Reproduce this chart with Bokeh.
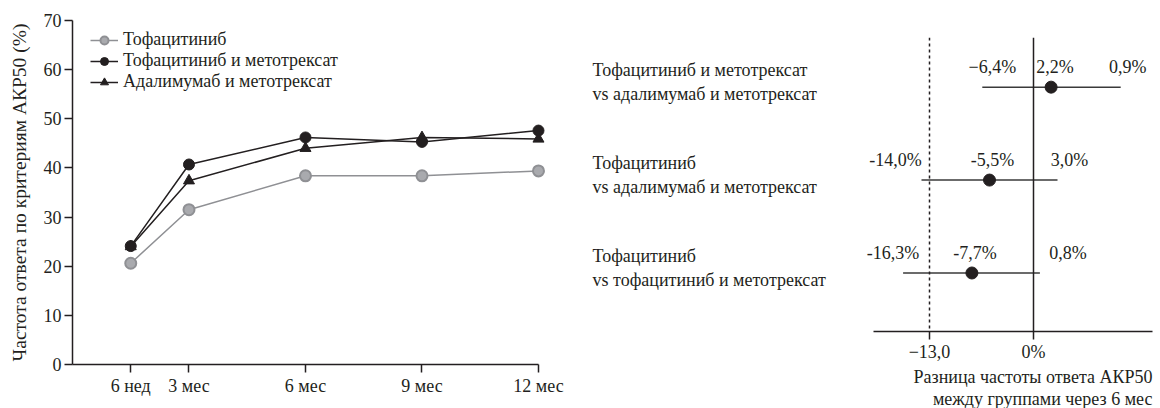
from bokeh.plotting import figure
from bokeh.layouts import row
from bokeh.models import Range1d, FixedTicker, Span, Legend, LegendItem, ColumnDataSource, Title
from bokeh.embed import file_html
from bokeh.resources import INLINE
from bokeh.core.properties import value

# ---------------- data ----------------
visits = [1.5, 3, 6, 9, 12]
visit_labels = ["6 нед", "3 мес", "6 мес", "9 мес", "12 мес"]
tofa = [20.6, 31.5, 38.4, 38.4, 39.4]
tofa_mtx = [24.1, 40.7, 46.2, 45.3, 47.6]
ada_mtx = [24.0, 37.4, 44.0, 46.2, 45.9]
series_names = ["Тофацитиниб", "Тофацитиниб и метотрексат", "Адалимумаб и метотрексат"]
y_ticks = [0, 10, 20, 30, 40, 50, 60, 70]
y_title = "Частота ответа по критериям АКР50 (%)"

comparisons = [
    "Тофацитиниб и метотрексат\nvs адалимумаб и метотрексат",
    "Тофацитиниб\nvs адалимумаб и метотрексат",
    "Тофацитиниб\nvs тофацитиниб и метотрексат",
]
diff_est = [2.2, -5.5, -7.7]
diff_lo = [-6.4, -14.0, -16.3]
diff_hi = [10.9, 3.0, 0.8]
lo_labels = ["−6,4%", "-14,0%", "-16,3%"]
est_labels = ["2,2%", "-5,5%", "-7,7%"]
hi_labels = ["0,9%", "3,0%", "0,8%"]
margin_value = -13.0
forest_ticks = [-13.0, 0.0]
forest_tick_labels = ["−13,0", "0%"]
forest_title = ["Разница частоты ответа АКР50", "между группами через 6 мес"]

# ---------------- style ----------------
FONT = "Liberation Serif"
INK = "#231f20"
GRAY_LINE = "#8f9094"
GRAY_FILL = "#a9aaae"

# ---------------- left chart ----------------
p1 = figure(width=570, height=408, output_backend="svg", toolbar_location=None,
            x_range=Range1d(0, 12.567), y_range=Range1d(0, 70),
            min_border_left=72, min_border_right=10, min_border_top=20, min_border_bottom=44)
p1.frame_align = False
p1.outline_line_color = None
p1.grid.visible = False

r_t_l = p1.line(visits, tofa, line_color=GRAY_LINE, line_width=1.5)
r_t_m = p1.scatter(visits, tofa, marker="circle", size=11, fill_color=GRAY_FILL,
                   line_color=GRAY_LINE, line_width=2)
r_a_l = p1.line(visits, ada_mtx, line_color=INK, line_width=1.5)
r_a_m = p1.scatter(visits, ada_mtx, marker="triangle", size=11, fill_color=INK, line_color=INK)
r_tm_l = p1.line(visits, tofa_mtx, line_color=INK, line_width=1.5)
r_tm_m = p1.scatter(visits, tofa_mtx, marker="circle", size=11, fill_color=INK, line_color=INK)

legend = Legend(items=[
    LegendItem(label=series_names[0], renderers=[r_t_l, r_t_m]),
    LegendItem(label=series_names[1], renderers=[r_tm_l, r_tm_m]),
    LegendItem(label=series_names[2], renderers=[r_a_l, r_a_m]),
], location=(18, 272))
legend.border_line_color = None
legend.background_fill_alpha = 0
legend.padding = 0
legend.margin = 0
legend.spacing = 0
legend.glyph_width = 28
legend.glyph_height = 20
legend.label_height = 20
legend.label_standoff = 5
legend.label_text_font = FONT
legend.label_text_font_size = "18px"
legend.label_text_color = INK
p1.add_layout(legend, "center")

xa = p1.xaxis[0]
xa.ticker = FixedTicker(ticks=visits)
xa.major_label_overrides = {v: l for v, l in zip(visits, visit_labels)}
xa.bounds = (0, 12)
ya = p1.yaxis[0]
ya.ticker = FixedTicker(ticks=y_ticks)
ya.bounds = (0, 70)
ya.axis_label = y_title
ya.axis_label_standoff = 11
for ax in (xa, ya):
    ax.axis_line_color = INK
    ax.axis_line_width = 1.5
    ax.major_tick_line_color = INK
    ax.major_tick_line_width = 1.5
    ax.major_tick_out = 8
    ax.major_tick_in = 0
    ax.minor_tick_line_color = None
    ax.major_label_text_font = FONT
    ax.major_label_text_font_size = "18px"
    ax.major_label_text_color = INK
    ax.major_label_standoff = 3
    ax.axis_label_text_font = FONT
    ax.axis_label_text_font_size = "19.5px"
    ax.axis_label_text_font_style = "normal"
    ax.axis_label_text_color = INK

# ---------------- right chart (forest) ----------------
PX = 8.0          # pixels per percentage point
ZERO_X = 1033 - 570
FL, FR = 5, 590 - 8
x0 = (FL - ZERO_X) / PX
x1 = (FR - ZERO_X) / PX
rows = [3, 2, 1]
PY = 94.5
y0 = 1 - (336 - 276.5) / PY
y1 = y0 + (336 - 37) / PY
p2 = figure(width=590, height=408, output_backend="svg", toolbar_location=None,
            x_range=Range1d(x0, x1), y_range=Range1d(y0, y1),
            y_axis_location=None,
            min_border_left=FL, min_border_right=8, min_border_top=37, min_border_bottom=72)
p2.frame_align = False
p2.outline_line_color = None
p2.grid.visible = False

p2.add_layout(Span(location=margin_value, dimension="height", line_color=INK,
                   line_width=1.5, line_dash="3 3"))
p2.add_layout(Span(location=0, dimension="height", line_color=INK, line_width=1.5))

src = ColumnDataSource(dict(y=rows, est=diff_est, lo=diff_lo, hi=diff_hi,
                            lo_t=lo_labels, est_t=est_labels, hi_t=hi_labels,
                            cmp=comparisons,
                            lx=[x0 + 17 / PX] * 3,
                            lo_off=[10, -26, -10], est_off=[4, 3, 3], hi_off=[7, 12, 28]))
p2.segment(x0="lo", y0="y", x1="hi", y1="y", source=src, line_color="#3a3a3a", line_width=1.5)
p2.scatter(x="est", y="y", source=src, marker="circle", size=12, fill_color=INK, line_color=INK)

common = dict(text_font=value(FONT), text_font_size="18px", text_color=INK,
              text_align="center", text_baseline="middle", y_offset=-20)
p2.text(x="lo", y="y", text="lo_t", x_offset="lo_off", source=src, **common)
p2.text(x="est", y="y", text="est_t", x_offset="est_off", source=src, **common)
p2.text(x="hi", y="y", text="hi_t", x_offset="hi_off", source=src, **common)
p2.text(x="lx", y="y", text="cmp", source=src, text_font=value(FONT), text_font_size="18px",
        text_color=INK, text_align="left", text_baseline="middle", y_offset=-5,
        text_line_height=1.2)

fa = p2.xaxis[0]
fa.ticker = FixedTicker(ticks=forest_ticks)
fa.major_label_overrides = {v: l for v, l in zip(forest_ticks, forest_tick_labels)}
fa.bounds = (-20.0, x1)
fa.axis_line_color = INK
fa.axis_line_width = 1.5
fa.major_tick_line_color = INK
fa.major_tick_line_width = 1.5
fa.major_tick_out = 8
fa.major_tick_in = 0
fa.minor_tick_line_color = None
fa.major_label_text_font = FONT
fa.major_label_text_font_size = "18px"
fa.major_label_text_color = INK
fa.major_label_standoff = 2

for t in forest_title:
    p2.add_layout(Title(text=t, align="right", standoff=0,
                        text_font=FONT, text_font_size="18px", text_font_style="normal",
                        text_color=INK, text_line_height=1.0), "below")

layout = row(p1, p2)
open("out.html", "w").write(file_html(layout, INLINE))
